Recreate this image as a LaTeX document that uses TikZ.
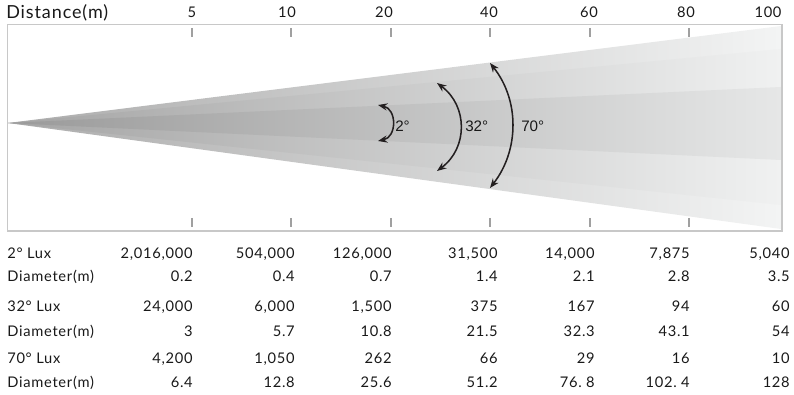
\documentclass[tikz,border=0pt]{standalone}
\usepackage{fontspec}
\setmainfont{Lato}[LetterSpace=5]
\newfontfamily\arialfont{Liberation Sans}
\usetikzlibrary{arrows.meta}
\definecolor{txt}{RGB}{25,25,25}
\definecolor{frame}{RGB}{200,200,200}
\definecolor{tick}{RGB}{160,160,160}
\definecolor{outerL}{RGB}{172,172,172}
\definecolor{outerR}{RGB}{243,244,244}
\definecolor{midL}{RGB}{164,164,164}
\definecolor{midR}{RGB}{240,241,241}
\definecolor{innL}{RGB}{154,154,154}
\definecolor{innR}{RGB}{230,231,231}
\definecolor{arr}{RGB}{35,31,32}
\begin{document}
\begin{tikzpicture}[x=0.75pt,y=-0.75pt,
  tbl/.style={font=\fontsize{11}{12}\selectfont, text=txt, inner sep=0pt, anchor=base east},
  rowhead/.style={font=\fontsize{11}{12}\selectfont, text=txt, inner sep=0pt, anchor=base west},
  ticklbl/.style={font=\fontsize{11}{12}\selectfont, text=txt, inner sep=0pt, anchor=base},
  angl/.style={font=\arialfont\fontsize{11.4}{12}\selectfont, text=txt, inner sep=0pt},
  tickmark/.style={draw=tick, line width=2.2pt},
  angarrow/.style={draw=arr, line width=1.15pt, {Stealth[length=7pt,width=5.4pt]}-{Stealth[length=7pt,width=5.4pt]}}]
\useasboundingbox (0,0) rectangle (794,395);
% beam
\coordinate (apex) at (8,123);
\shade[left color=outerL, right color=outerR] (apex) -- (781,26) -- (781,229) -- cycle;
\shade[left color=midL, right color=midR] (apex) -- (781,49) -- (781,205) -- cycle;
\shade[left color=innL, right color=innR] (apex) -- (781,87) -- (781,160) -- cycle;
% frame
\draw[frame, line width=1.1pt] (7.5,24.5) rectangle (782,231);
% title
\node[font=\fontsize{13.5}{14}\selectfont, text=txt, inner sep=0pt, anchor=base west] (title) at (6,18.5) {Distance(m)};
% ticks and tick labels
\foreach \tx/\lx/\t [count=\i] in {192/192/5, 291/287/10, 391/384/20, 490/489/40, 590/589/60, 689/686/80} {
  \draw[tickmark] (\tx,28) -- (\tx,37);
  \draw[tickmark] (\tx,218) -- (\tx,227);
  \node[ticklbl] (t\i) at (\lx,17.5) {\t};
}
\node[ticklbl] (t7) at (768,17.5) {100};
% angle arcs
\coordinate (a2t) at (378,105); \coordinate (a2b) at (378,141);
\draw[angarrow] (a2t) .. controls (397,109) and (397,137) .. (a2b);
\node[angl, anchor=west] (l2) at (395,126) {2°};
\coordinate (a32t) at (437,83); \coordinate (a32b) at (437,171);
\draw[angarrow] (a32t) .. controls (468,106) and (468,148) .. (a32b);
\node[angl, anchor=west] (l32) at (465,126) {32°};
\coordinate (a70t) at (490,63); \coordinate (a70b) at (490,188);
\draw[angarrow] (a70t) .. controls (519.5,100) and (519.5,150) .. (a70b);
\node[angl, anchor=west] (l70) at (521,126) {70°};
% table
\node[rowhead] (r1) at (7,259) {2° Lux};
\node[rowhead] (r2) at (7,282) {Diameter(m)};
\node[rowhead] (r3) at (7,312) {32° Lux};
\node[rowhead] (r4) at (7,337) {Diameter(m)};
\node[rowhead] (r5) at (7,364) {70° Lux};
\node[rowhead] (r6) at (7,388) {Diameter(m)};
\foreach \v [count=\c] in {2{,}016{,}000, 504{,}000, 126{,}000, 31{,}500, 14{,}000, 7{,}875, 5{,}040}
  { \pgfmathsetmacro{\xx}{{193,295,392,498,595,690,790}[\c-1]}
    \node[tbl] (a\c) at (\xx,259) {\v}; }
\foreach \v [count=\c] in {0.2, 0.4, 0.7, 1.4, 2.1, 2.8, 3.5}
  { \pgfmathsetmacro{\xx}{{193,295,392,498,595,690,790}[\c-1]}
    \node[tbl] (b\c) at (\xx,282) {\v}; }
\foreach \v [count=\c] in {24{,}000, 6{,}000, 1{,}500, 375, 167, 94, 60}
  { \pgfmathsetmacro{\xx}{{193,295,392,498,595,690,790}[\c-1]}
    \node[tbl] (c\c) at (\xx,312) {\v}; }
\foreach \v [count=\c] in {3, 5.7, 10.8, 21.5, 32.3, 43.1, 54}
  { \pgfmathsetmacro{\xx}{{193,295,392,498,595,690,790}[\c-1]}
    \node[tbl] (d\c) at (\xx,337) {\v}; }
\foreach \v [count=\c] in {4{,}200, 1{,}050, 262, 66, 29, 16, 10}
  { \pgfmathsetmacro{\xx}{{193,295,392,498,595,690,790}[\c-1]}
    \node[tbl] (e\c) at (\xx,364) {\v}; }
\foreach \v [count=\c] in {6.4, 12.8, 25.6, 51.2, 76.\ 8, 102.\ 4, 128}
  { \pgfmathsetmacro{\xx}{{193,295,392,498,595,690,790}[\c-1]}
    \node[tbl] (f\c) at (\xx,388) {\v}; }
\end{tikzpicture}
\end{document}
